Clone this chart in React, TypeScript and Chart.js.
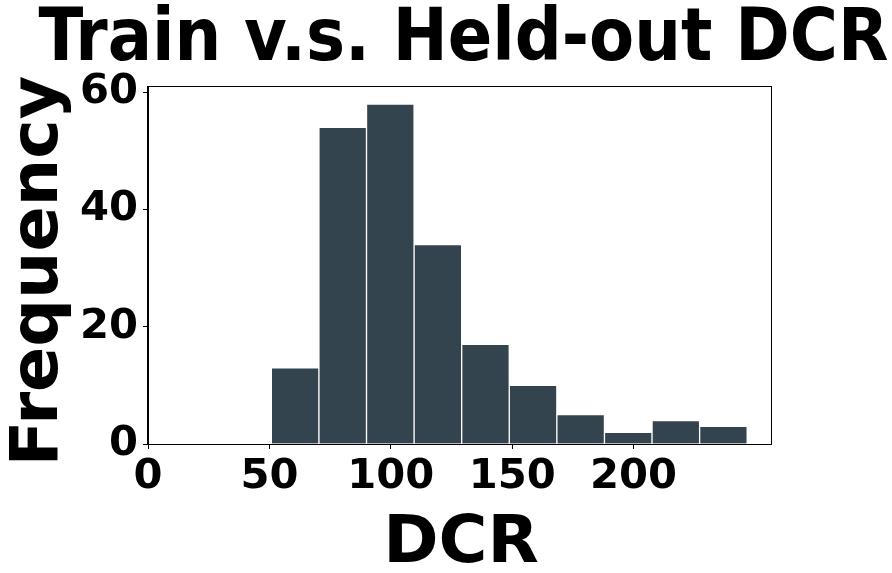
import React, { useEffect, useRef } from "react";
import { Chart, registerables } from "chart.js";

Chart.register(...registerables);

const TITLE = "Train v.s. Held-out DCR";
const X_LABEL = "DCR";
const Y_LABEL = "Frequency";

const binEdges = [50.8, 70.4, 90.0, 109.6, 129.2, 148.8, 168.4, 188.0, 207.6, 227.2, 246.8];
const frequencies = [13, 54, 58, 34, 17, 10, 5, 2, 4, 3];
const xTicks = [0, 50, 100, 150, 200];
const yTicks = [0, 20, 40, 60];
const xRange = [0, 256.6];
const yRange = [0, 60.9];

const BAR_COLOR = "#34444e";
const FONT = "'DejaVu Sans', sans-serif";
const TITLE_FONT = "'DejaVu Sans Condensed', 'DejaVu Sans', sans-serif";

const labelsPlugin = {
  id: "frameAndLabels",
  afterDraw(chart: any) {
    const { ctx, chartArea: a } = chart;
    const cx = (a.left + a.right) / 2;
    ctx.save();
    ctx.strokeStyle = "#000";
    ctx.lineWidth = 1;
    ctx.strokeRect(Math.round(a.left) - 0.5, Math.round(a.top) - 0.5, Math.round(a.right - a.left) + 1, Math.round(a.bottom - a.top) + 1);
    ctx.fillStyle = "#000";
    ctx.textAlign = "center";
    ctx.textBaseline = "alphabetic";
    // main title
    ctx.font = `bold 73px ${TITLE_FONT}`;
    ctx.fillText(TITLE, cx + 4, 60);
    // x axis label
    ctx.font = `bold 66.7px ${FONT}`;
    ctx.fillText(X_LABEL, cx + 1.5, 562);
    // y axis label
    ctx.translate(57, 271);
    ctx.rotate(-Math.PI / 2);
    ctx.fillText(Y_LABEL, 0, 0);
    ctx.restore();
  },
};

export default function App() {
  const ref = useRef<HTMLCanvasElement>(null);
  useEffect(() => {
    if (!ref.current) return;
    const points = frequencies.map((f, i) => ({ x: (binEdges[i] + binEdges[i + 1]) / 2, y: f }));
    const chart = new Chart(ref.current, {
      type: "bar",
      data: {
        datasets: [
          {
            data: points,
            backgroundColor: BAR_COLOR,
            borderColor: "#ffffff",
            borderWidth: 1,
            barPercentage: 1,
            categoryPercentage: 1,
            grouped: false,
          } as any,
        ],
      },
      options: {
        responsive: false,
        animation: false,
        devicePixelRatio: 1,
        layout: { padding: { top: 87, right: 121, left: 0, bottom: 0 } },
        plugins: { legend: { display: false }, tooltip: { enabled: false }, title: { display: false } },
        scales: {
          x: {
            type: "linear",
            min: xRange[0],
            max: xRange[1],
            offset: false,
            grid: { display: true, drawOnChartArea: false, drawTicks: true, tickLength: 5, color: "#000", offset: false },
            border: { display: true, color: "#000", width: 1 },
            ticks: { color: "#000", font: { family: FONT, size: 41.7, weight: "bold" }, padding: 3, maxRotation: 0, autoSkip: false },
            afterBuildTicks: (s: any) => { s.ticks = xTicks.map((v) => ({ value: v })); },
            title: { display: false },
            afterFit: (s: any) => { s.height = 129; },
          },
          y: {
            type: "linear",
            min: yRange[0],
            max: yRange[1],
            grid: { display: true, drawOnChartArea: false, drawTicks: true, tickLength: 5, color: "#000" },
            border: { display: true, color: "#000", width: 1 },
            ticks: { color: "#000", font: { family: FONT, size: 41.7, weight: "bold" }, padding: 5 },
            afterBuildTicks: (s: any) => { s.ticks = yTicks.map((v) => ({ value: v })); },
            title: { display: false },
            afterFit: (s: any) => { s.width = 148; },
          },
        },
      } as any,
      plugins: [labelsPlugin],
    });
    return () => chart.destroy();
  }, []);
  return (
    <div style={{ position: "absolute", left: 0, top: 0, width: 892, height: 573, background: "#fff" }}>
      <canvas ref={ref} width={892} height={573} style={{ display: "block" }} />
    </div>
  );
}
